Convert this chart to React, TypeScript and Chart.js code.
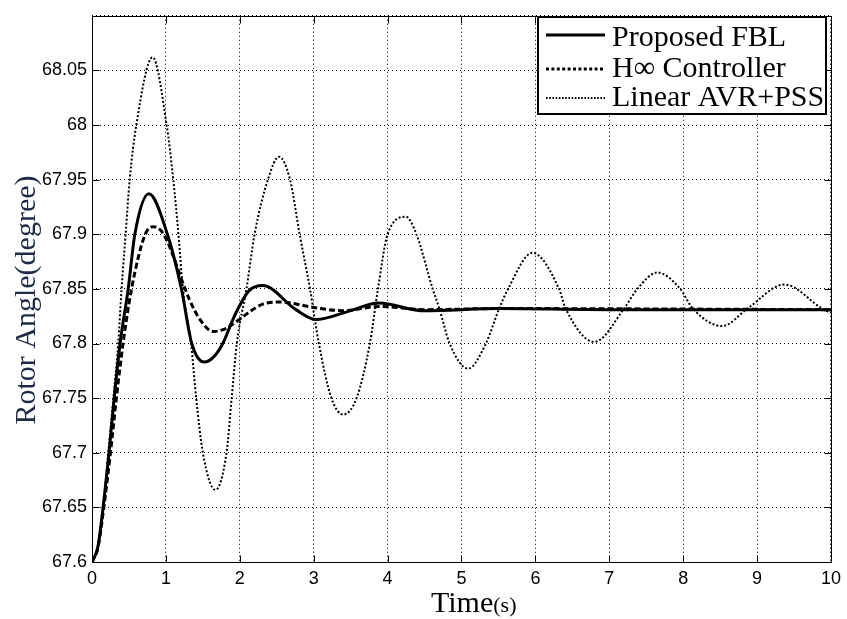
import React, { useEffect, useRef } from 'react';
import { Chart, registerables } from 'chart.js';

Chart.register(...registerables);

// ---------- data ----------
const seriesLabels = ['Proposed FBL', 'H\u221E Controller', 'Linear AVR+PSS'];

const timeFBL = [0, 0.08, 0.15, 0.23, 0.30, 0.38, 0.49, 0.58, 0.77, 1.02, 1.21, 1.35, 1.52, 1.65, 1.77, 1.9, 2.0, 2.12, 2.31, 2.76, 3.03, 3.45, 3.88, 4.5, 5.5, 7, 10];
const valuesFBL = [67.6, 67.614, 67.65, 67.7, 67.75, 67.8, 67.85, 67.9, 67.937, 67.9, 67.85, 67.8, 67.783, 67.788, 67.8, 67.821, 67.835, 67.848, 67.853, 67.831, 67.822, 67.829, 67.837, 67.830, 67.832, 67.831, 67.831];

const timeHinf = [0, 0.08, 0.16, 0.25, 0.33, 0.42, 0.535, 0.72, 0.83, 0.97, 1.26, 1.32, 1.46, 1.64, 1.82, 1.93, 2.31, 2.55, 3.0, 3.4, 3.9, 4.5, 5.5, 10];
const valuesHinf = [67.6, 67.613, 67.65, 67.7, 67.75, 67.8, 67.85, 67.9, 67.907, 67.9, 67.85, 67.84, 67.822, 67.811, 67.814, 67.819, 67.836, 67.838, 67.833, 67.830, 67.834, 67.831, 67.832, 67.831];

const timePSS = [0, 0.08, 0.15, 0.22, 0.29, 0.355, 0.40, 0.455, 0.51, 0.60, 0.82, 1.01, 1.10, 1.17, 1.23, 1.34, 1.41, 1.50, 1.67, 1.82, 1.89, 1.96, 2.09, 2.2, 2.38, 2.53, 2.68, 2.81, 2.95, 3.07, 3.24, 3.40, 3.58, 3.76, 3.87, 4.0, 4.25, 4.39, 4.61, 4.70, 4.84, 5.09, 5.33, 5.51, 5.63, 5.96, 6.32, 6.41, 6.8, 7.2, 7.38, 7.65, 7.96, 8.13, 8.53, 8.87, 9.37, 9.88, 10];
const valuesPSS = [67.6, 67.614, 67.65, 67.7, 67.75, 67.8, 67.85, 67.9, 67.95, 68.0, 68.062, 68.0, 67.95, 67.9, 67.85, 67.8, 67.75, 67.7, 67.666, 67.7, 67.75, 67.8, 67.85, 67.9, 67.95, 67.971, 67.95, 67.9, 67.85, 67.8, 67.75, 67.735, 67.75, 67.8, 67.85, 67.9, 67.916, 67.9, 67.85, 67.832, 67.8, 67.777, 67.8, 67.832, 67.85, 67.883, 67.85, 67.832, 67.8015, 67.832, 67.85, 67.865, 67.85, 67.832, 67.816, 67.832, 67.854, 67.832, 67.828];

const xTickValues = [0, 1, 2, 3, 4, 5, 6, 7, 8, 9, 10];
const yTickValues = [67.6, 67.65, 67.7, 67.75, 67.8, 67.85, 67.9, 67.95, 68, 68.05, 68.1];
const yTickLabels = ['67.6', '67.65', '67.7', '67.75', '67.8', '67.85', '67.9', '67.95', '68', '68.05', ''];

const xTitle = 'Time';
const xTitleUnit = '(s)';
const yTitle = 'Rotor Angle(degree)';

// ---------- styles ----------
const SERIF = "'Liberation Serif', 'Times New Roman', serif";
const SANS = "'Liberation Sans', Arial, sans-serif";
const plotDash = [[], [6, 3], [2, 2]];
const plotWidth = [3, 3, 2];
const legendDash = [[], [3, 2.4], [1.6, 1.6]];
const legendWidth = [3, 3, 1.8];
const TICK = 7;

const overlay = {
  id: 'overlay',
  afterDatasetsDraw(chart: any) {
    const { ctx, chartArea: a, scales } = chart;
    const xs = scales.x;
    const ys = scales.y;
    ctx.save();
    ctx.setLineDash([]);
    ctx.strokeStyle = '#000';
    ctx.lineWidth = 1;
    const L = Math.round(a.left) + 0.5;
    const R = Math.round(a.right) + 0.5;
    const T = Math.round(a.top) + 0.5;
    const B = Math.round(a.bottom) + 0.5;
    ctx.strokeRect(L, T, R - L, B - T);
    ctx.beginPath();
    for (const v of xTickValues) {
      const px = Math.round(xs.getPixelForValue(v)) + 0.5;
      ctx.moveTo(px, B); ctx.lineTo(px, B - TICK);
      ctx.moveTo(px, T); ctx.lineTo(px, T + TICK);
    }
    for (const v of yTickValues) {
      const py = Math.round(ys.getPixelForValue(v)) + 0.5;
      ctx.moveTo(L, py); ctx.lineTo(L + TICK, py);
      ctx.moveTo(R, py); ctx.lineTo(R - TICK, py);
    }
    ctx.stroke();

    // legend box
    const bx = 538, by = 17, bw = 288, bh = 97;
    ctx.fillStyle = '#fff';
    ctx.fillRect(bx, by, bw, bh);
    ctx.lineWidth = 2;
    ctx.strokeRect(bx, by, bw, bh);
    const lineY = [35, 69, 98];
    const baseY = [46, 77, 106];
    ctx.font = `30px ${SERIF}`;
    ctx.textBaseline = 'alphabetic';
    ctx.textAlign = 'left';
    chart.data.datasets.forEach((ds: any, i: number) => {
      ctx.beginPath();
      ctx.setLineDash(legendDash[i]);
      ctx.lineWidth = legendWidth[i];
      ctx.strokeStyle = '#000';
      ctx.moveTo(546, lineY[i]);
      ctx.lineTo(605, lineY[i]);
      ctx.stroke();
      ctx.setLineDash([]);
      ctx.fillStyle = '#000';
      ctx.fillText(ds.label, 612, baseY[i]);
    });

    // axis titles
    ctx.fillStyle = '#000';
    ctx.font = `30px ${SERIF}`;
    ctx.textAlign = 'left';
    ctx.fillText(xTitle, 431, 612);
    const tw = ctx.measureText(xTitle).width;
    ctx.font = `22px ${SERIF}`;
    ctx.fillText(xTitleUnit, 431 + tw, 612);

    ctx.save();
    ctx.translate(35, 300);
    ctx.rotate(-Math.PI / 2);
    ctx.font = `30px ${SERIF}`;
    ctx.textAlign = 'center';
    ctx.fillStyle = '#1f2a44';
    ctx.fillText(yTitle, 0, 0);
    ctx.restore();

    ctx.restore();
  },
};

export default function App() {
  const ref = useRef<HTMLCanvasElement | null>(null);
  useEffect(() => {
    if (!ref.current) return;
    const toPts = (t: number[], v: number[]) => t.map((x, i) => ({ x, y: v[i] }));
    const seriesData = [toPts(timeFBL, valuesFBL), toPts(timeHinf, valuesHinf), toPts(timePSS, valuesPSS)];
    const chart = new Chart(ref.current, {
      type: 'line',
      data: {
        datasets: seriesData.map((d, i) => ({
          label: seriesLabels[i],
          data: d,
          borderColor: '#000',
          borderWidth: plotWidth[i],
          borderDash: plotDash[i],
          pointRadius: 0,
          fill: false,
          cubicInterpolationMode: 'monotone' as const,
        })),
      },
      options: {
        animation: false,
        responsive: false,
        layout: { padding: { top: 10, right: 15, left: 0, bottom: 0 } },
        plugins: { legend: { display: false }, tooltip: { enabled: false } },
        scales: {
          x: {
            type: 'linear',
            min: 0,
            max: 10,
            afterBuildTicks: (s: any) => { s.ticks = xTickValues.map((v) => ({ value: v })); },
            afterFit: (s: any) => { s.height = 57; },
            ticks: {
              color: '#000',
              font: { family: SANS, size: 18 },
              padding: 6,
              maxRotation: 0,
              autoSkip: false,
              callback: (v: any) => String(v),
            },
            grid: { color: '#000', lineWidth: 1, drawTicks: false },
            border: { display: false, dash: [1, 3] },
          },
          y: {
            type: 'linear',
            min: 67.6,
            max: 68.1,
            afterBuildTicks: (s: any) => { s.ticks = yTickValues.map((v) => ({ value: v })); },
            afterFit: (s: any) => { s.width = 92; },
            ticks: {
              color: '#000',
              font: { family: SANS, size: 18 },
              padding: 5,
              autoSkip: false,
              callback: (_v: any, i: number) => yTickLabels[i],
            },
            grid: { color: '#000', lineWidth: 1, drawTicks: false },
            border: { display: false, dash: [1, 3] },
          },
        },
      },
      plugins: [overlay],
    });
    return () => chart.destroy();
  }, []);
  return (
    <div style={{ position: 'fixed', left: 0, top: 0, width: 847, height: 619, background: '#fff' }}>
      <canvas ref={ref} width={847} height={619} style={{ display: 'block', width: 847, height: 619 }} />
    </div>
  );
}
